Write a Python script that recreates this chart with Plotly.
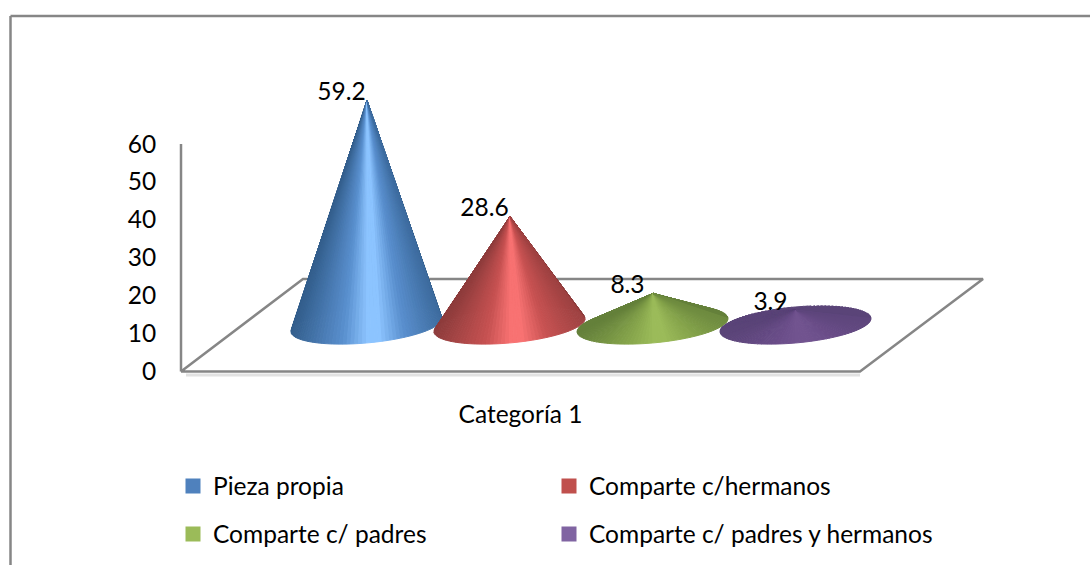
import math
import plotly.graph_objects as go

# ---- data ----
categories = ["Categoría 1"]
series_names = ["Pieza propia", "Comparte c/hermanos", "Comparte c/ padres", "Comparte c/ padres y hermanos"]
series_values = [59.2, 28.6, 8.3, 3.9]
y_ticks = [0, 10, 20, 30, 40, 50, 60]

# ---- style: (edge, mid, highlight), legend colour ----
shades = [("#335E8C", "#5A90CF", "#8CC4FF"),
          ("#8E3C3C", "#C85252", "#F87272"),
          ("#64803A", "#88A74C", "#9BBB59"),
          ("#5A4478", "#694C88", "#71538F")]
legend_colors = ["#4F81BD", "#C0504D", "#9BBB59", "#8064A2"]
FONT = "Lato"
FS = 24.5
AXIS = "#868686"

W, H = 1090, 565
PX_L, PX_R, PX_T, PX_B = 170, 1000, 90, 380
Y0_PX = 371.5       # px of value 0
UNIT_X = 143.0      # px per series slot
UNIT_Y = 227.5 / 60  # px per value unit
X0 = 366.5          # px of first series

def xd(px): return (px - X0) / UNIT_X
def yd(py): return (Y0_PX - py) / UNIT_Y

x_range = [xd(PX_L), xd(PX_R)]
y_range = [yd(PX_B), yd(PX_T)]

# 3-D floor geometry, in axis units
FLOOR_LEVEL = 12.27
RX, RY, TILT = 0.528, 18 / UNIT_Y, 6.5 / UNIT_Y
N = 120

def hex2rgb(h): return [int(h[j:j + 2], 16) for j in (1, 3, 5)]
def mix(a, b, f):
    ca, cb = hex2rgb(a), hex2rgb(b)
    return "rgb(%d,%d,%d)" % tuple(round(p + (q - p) * f) for p, q in zip(ca, cb))

def shade(sh, u):
    edge, mid, high = sh
    s = abs(u - 0.1)
    if s < 0.08:
        return high
    if s < 0.4:
        return mix(high, mid, (s - 0.08) / 0.32)
    return mix(mid, edge, min(1, (s - 0.4) / 0.7))

fig = go.Figure()

def line(xs, ys, color=AXIS, width=2.5):
    fig.add_trace(go.Scatter(x=xs, y=ys, mode="lines", line=dict(color=color, width=width),
                             showlegend=False, hoverinfo="skip", cliponaxis=False))

# walls and floor
line([xd(186), xd(860)], [yd(375), yd(375)], "#E2E2E2", 3)
line([xd(181), xd(181)], [60, 0])
line([xd(181), xd(860), xd(983), xd(303), xd(181)],
     [yd(371.5), yd(371.5), yd(279), yd(279), yd(371.5)])

# cones
for i, (v, sh) in enumerate(zip(series_values, shades)):
    apex = (i + 0.004, FLOOR_LEVEL + v)
    def pt(t):
        return (i + RX * math.cos(t), FLOOR_LEVEL + TILT * math.cos(t) + RY * math.sin(t))
    segs = []
    for k in range(N):
        t0, t1 = 2 * math.pi * k / N, 2 * math.pi * (k + 1) / N
        tm = (t0 + t1) / 2
        back = math.sin(tm) > 0
        segs.append((0 if back else 1, t0, t1, tm))
    segs.sort(key=lambda q: q[0])
    for front, t0, t1, tm in segs:
        c = shade(sh, math.cos(tm)) if front else sh[0]
        a, b = pt(t0), pt(t1)
        fig.add_trace(go.Scatter(x=[apex[0], a[0], b[0], apex[0]], y=[apex[1], a[1], b[1], apex[1]],
                                 mode="lines", fill="toself", fillcolor=c, line=dict(color=c, width=1),
                                 showlegend=False, hoverinfo="skip"))

# data labels
fig.add_trace(go.Scatter(x=[i - 0.175 for i in range(len(series_values))],
                         y=[FLOOR_LEVEL + v + 1.65 for v in series_values],
                         mode="text", text=[str(v) for v in series_values], textposition="middle center",
                         textfont=dict(family=FONT, size=FS, color="#000000"),
                         showlegend=False, hoverinfo="skip", cliponaxis=False))

# legend entries: one small legend per entry, laid out in two rows and two columns
legend_ids = ["legend", "legend2", "legend3", "legend4"]
legend_pos = [(173, 486), (549, 486), (173, 534), (549, 534)]
for name, col, lid in zip(series_names, legend_colors, legend_ids):
    fig.add_trace(go.Scatter(x=[None], y=[None], mode="markers", name=name,
                             marker=dict(symbol="square", size=15, color=col), legend=lid))

legends = {
    lid: dict(orientation="h", xanchor="left", yanchor="middle", x=px / W, y=(H - py) / H,
              font=dict(family=FONT, size=FS, color="#000000"), bgcolor="rgba(0,0,0,0)",
              itemclick=False, itemdoubleclick=False)
    for lid, (px, py) in zip(legend_ids, legend_pos)
}

fig.update_layout(
    width=W, height=H, autosize=False,
    margin=dict(l=0, r=0, t=0, b=0, autoexpand=False),
    paper_bgcolor="white", plot_bgcolor="white",
    font=dict(family=FONT, size=FS, color="#000000"),
    xaxis=dict(domain=[PX_L / W, PX_R / W], range=x_range, showgrid=False, zeroline=False, showline=False,
               tickmode="array", tickvals=[xd(520.5)], ticktext=categories,
               ticks="outside", ticklen=12.5, tickcolor="rgba(0,0,0,0)"),
    yaxis=dict(domain=[(H - PX_B) / H, (H - PX_T) / H], range=y_range, showgrid=False, zeroline=False, showline=False,
               tickmode="array", tickvals=y_ticks, ticktext=[str(t) for t in y_ticks],
               ticks="outside", ticklen=8, tickcolor="rgba(0,0,0,0)"),
    shapes=[
        dict(type="line", xref="paper", yref="paper", x0=10.5 / W, x1=1, y0=(H - 16) / H, y1=(H - 16) / H,
             line=dict(color=AXIS, width=2.5)),
        dict(type="line", xref="paper", yref="paper", x0=10.5 / W, x1=10.5 / W, y0=0, y1=(H - 16) / H,
             line=dict(color=AXIS, width=2.5)),
    ],
    **legends,
)

fig.write_html("out.html", config=dict(displayModeBar=False),
               post_script="document.body.style.margin='0';document.body.style.overflow='hidden';")
